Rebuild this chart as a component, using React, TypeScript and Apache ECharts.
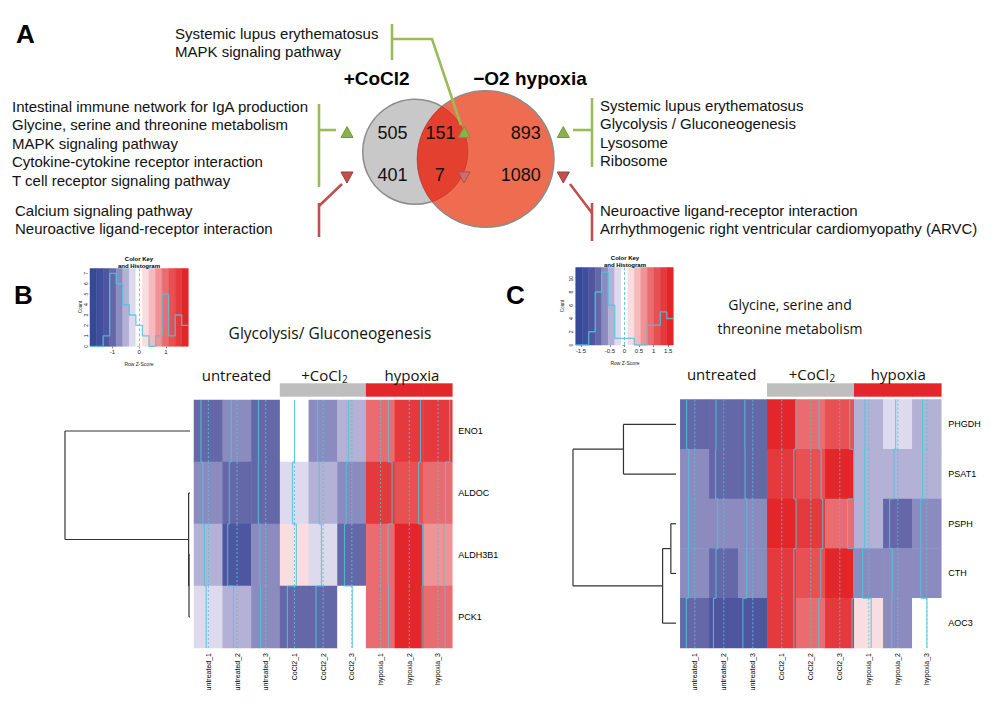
import React, { useEffect, useRef } from 'react';
import * as echarts from 'echarts';

// ---------------- data ----------------
const sampleNames = ['untreated_1', 'untreated_2', 'untreated_3', 'CoCl2_1', 'CoCl2_2', 'CoCl2_3', 'hypoxia_1', 'hypoxia_2', 'hypoxia_3'];
const sampleGroups = ['untreated', 'untreated', 'untreated', 'CoCl2', 'CoCl2', 'CoCl2', 'hypoxia', 'hypoxia', 'hypoxia'];

// Panel B: Glycolysis / Gluconeogenesis (row z-scores)
const glycolysisGenes = ['ENO1', 'ALDOC', 'ALDH3B1', 'PCK1'];
const zENO1 = [-0.95, -0.75, -0.93, 0.02, -0.7, -0.45, 1.0, 1.45, 1.5];
const zALDOC = [-0.7, -1.0, -0.95, -0.25, -0.5, -0.72, 1.48, 1.2, 0.98];
const zALDH3B1 = [-0.5, -1.2, -0.75, 0.25, -0.22, -0.95, 0.95, 1.7, 0.75];
const zPCK1 = [-0.28, -0.45, -0.68, -0.9, -0.92, 0.05, 1.0, 1.65, 0.92];

// Panel C: Glycine, serine and threonine metabolism (row z-scores)
const glycineGenes = ['PHGDH', 'PSAT1', 'PSPH', 'CTH', 'AOC3'];
const zPHGDH = [-0.95, -0.9, -0.92, 1.62, 0.95, 1.15, -0.45, -0.25, -0.5];
const zPSAT1 = [-0.7, -0.95, -0.9, 1.4, 1.2, 1.6, -0.5, -0.45, -0.48];
const zPSPH = [-0.72, -0.7, -0.68, 1.65, 1.38, 0.9, -0.5, -0.95, -0.7];
const zCTH = [-0.75, -0.9, -0.7, 1.4, 1.15, 1.62, -0.72, -0.65, -0.7];
const zAOC3 = [-0.98, -1.2, -1.15, 1.4, 0.92, 1.42, 0.28, -0.7, 0.02];

// Row dendrograms (hclust style: negative = leaf row, positive = earlier merge step)
const dendroB = [[-3, -4, 0.08], [-2, 1, 0.11], [-1, 2, 10]];
const dendroC = [[-3, -4, 0.5], [1, -5, 1.3], [-1, -2, 5.1], [3, 2, 10]];

// Color keys
const keyRangeB = 1.84;
const keyRangeC = 1.68;
const histCountsB = [0, 0, 1, 7, 6, 4, 3, 2, 1, 0, 1, 5, 1, 3, 2];
const histCountsC = [0, 0, 2, 8, 11, 6, 1, 1, 1, 0, 0, 3, 3, 5, 4];
const keyTicksB = [-1, 0, 1];
const keyTicksC = [-1.5, -0.5, 0, 0.5, 1, 1.5];
const countTicksB = [0, 1, 2, 3, 4, 5, 6, 7];
const countTicksC = [0, 2, 4, 6, 8, 10];

// Panel A: Venn diagram
const vennUpCounts = [505, 151, 893];
const vennDownCounts = [401, 7, 1080];
const sharedUpPathways = ['Systemic lupus erythematosus', 'MAPK signaling pathway'];
const cocl2UpPathways = ['Intestinal immune network for IgA production', 'Glycine, serine and threonine metabolism', 'MAPK signaling pathway', 'Cytokine-cytokine receptor interaction', 'T cell receptor signaling pathway'];
const cocl2DownPathways = ['Calcium signaling pathway', 'Neuroactive ligand-receptor interaction'];
const hypoxiaUpPathways = ['Systemic lupus erythematosus', 'Glycolysis / Gluconeogenesis', 'Lysosome', 'Ribosome'];
const hypoxiaDownPathways = ['Neuroactive ligand-receptor interaction', 'Arrhythmogenic right ventricular cardiomyopathy (ARVC)'];

// ---------------- styles ----------------
const zPalette = ['#36489A', '#414E9C', '#4E56A0', '#6468A8', '#8B8BBF', '#B3B2D6', '#DCDAEC', '#FFFFFF', '#FADDE0', '#F6BABC', '#F09396', '#EB6C70', '#E85053', '#E53A3D', '#E2262A'];
const groupColors: Record<string, string> = { untreated: 'rgba(0,0,0,0)', CoCl2: '#BEBEBE', hypoxia: '#E2262A' };
const TRACE = 'rgba(78,196,222,0.85)';
const ARIAL = "'Liberation Sans', Arial, sans-serif";
const HUMAN = "'Open Sans', 'Noto Sans', sans-serif";
const GREEN = '#9BBB59';
const RED = '#C0504D';

function pieces(R: number) {
  const w = (2 * R) / 15;
  return zPalette.map((color, i) => {
    const p: any = { color };
    if (i > 0) p.gte = -R + i * w;
    if (i < 14) p.lt = -R + (i + 1) * w;
    return p;
  });
}

function heatData(rows: number[][]) {
  const out: number[][] = [];
  rows.forEach((vals, r) => vals.forEach((v, c) => out.push([c, r, v])));
  return out;
}

function traceSeries(idx: number, rows: number[][], R: number) {
  const data: number[][] = [];
  rows.forEach((vals, r) => vals.forEach((v, c) => {
    const next = r + 1 < rows.length ? rows[r + 1][c] : v;
    data.push([c, r, v, next, c, r]);
  }));
  return {
    type: 'custom', xAxisIndex: idx, yAxisIndex: idx, z: 5, silent: true,
    encode: { x: 0, y: 1 },
    data,
    renderItem: (params: any, api: any) => {
      const c = api.value(4), r = api.value(5), v = api.value(2), vn = api.value(3);
      const p = api.coord([c, r]);
      const s = api.size([1, 1]);
      const w = s[0], h = s[1];
      const top = p[1] - h / 2, bot = p[1] + h / 2;
      const xv = p[0] + (v / (2 * R)) * w;
      const xn = p[0] + (vn / (2 * R)) * w;
      return {
        type: 'group',
        children: [
          { type: 'line', shape: { x1: p[0], y1: top, x2: p[0], y2: bot }, style: { stroke: TRACE, lineWidth: 1, lineDash: [2, 2] } },
          { type: 'line', shape: { x1: xv, y1: top, x2: xv, y2: bot }, style: { stroke: TRACE, lineWidth: 1.1 } },
          { type: 'line', shape: { x1: xv, y1: bot, x2: xn, y2: bot }, style: { stroke: TRACE, lineWidth: 1.1 } },
        ],
      };
    },
  };
}

function dendroSegments(merges: number[][]) {
  const pos: number[] = [], ht: number[] = [];
  const segs: number[][] = [];
  const get = (k: number) => (k < 0 ? [-k - 1, 0] : [pos[k - 1], ht[k - 1]]);
  merges.forEach(([a, b, h]) => {
    const [pa, ha] = get(a);
    const [pb, hb] = get(b);
    segs.push([ha, pa, h, pa], [hb, pb, h, pb], [h, pa, h, pb]);
    pos.push((pa + pb) / 2);
    ht.push(h);
  });
  return segs;
}

function dendroSeries(idx: number, merges: number[][]) {
  return {
    type: 'custom', xAxisIndex: idx, yAxisIndex: idx, silent: true,
    encode: { x: [0, 2], y: [1, 3] },
    data: dendroSegments(merges),
    renderItem: (params: any, api: any) => {
      const a = api.coord([api.value(0), api.value(1)]);
      const b = api.coord([api.value(2), api.value(3)]);
      return { type: 'line', shape: { x1: a[0], y1: a[1], x2: b[0], y2: b[1] }, style: { stroke: '#333', lineWidth: 1.2 } };
    },
  };
}

// column side colours: one rect per sample, filling its category band
function sideBarSeries(idx: number) {
  return {
    type: 'custom', xAxisIndex: idx, yAxisIndex: idx, silent: true,
    encode: { x: 0, y: 1 },
    data: sampleGroups.map((g, i) => [i, 0.5, i]),
    renderItem: (params: any, api: any) => {
      const i = api.value(2);
      const g = sampleGroups[i];
      if (g === 'untreated') return null;
      const p0 = api.coord([i, 0]);
      const p1 = api.coord([i, 1]);
      const w = api.size([1, 1])[0];
      return {
        type: 'rect',
        shape: { x: p0[0] - w / 2 - 0.3, y: p1[1], width: w + 0.6, height: p0[1] - p1[1] },
        style: { fill: groupColors[g] },
      };
    },
  };
}

function keySeries(idx: number, counts: number[], R: number) {
  const w = (2 * R) / 15;
  const pts = counts.map((c, i) => [-R + i * w, c]);
  pts.push([R, counts[counts.length - 1]]);
  return {
    type: 'line', xAxisIndex: idx, yAxisIndex: idx, step: 'end', symbol: 'none', silent: true, z: 4,
    data: pts,
    lineStyle: { color: TRACE, width: 1.3 },
    markArea: {
      silent: true,
      data: zPalette.map((color, i) => [
        { xAxis: -R + i * w, itemStyle: { color, opacity: 1, borderWidth: 0.5, borderColor: color } },
        { xAxis: -R + (i + 1) * w },
      ]),
    },
    markLine: {
      silent: true, symbol: ['none', 'none'], label: { show: false },
      lineStyle: { color: TRACE, type: [3, 2], width: 1 },
      data: [{ xAxis: 0 }],
    },
  };
}

function catX(idx: number, show: boolean) {
  return {
    type: 'category', gridIndex: idx, data: sampleNames, show,
    axisLine: { show: false }, axisTick: { show: false }, splitLine: { show: false },
    axisLabel: { rotate: 90, fontSize: 7, margin: 5, color: '#000', fontFamily: ARIAL },
  };
}

function keyAxes(idx: number, R: number, ticks: number[], counts: number[], ymax: number) {
  return {
    x: {
      type: 'value', gridIndex: idx, min: -R, max: R,
      axisLine: { show: false }, splitLine: { show: false },
      axisTick: { show: true, customValues: ticks, length: 2, lineStyle: { color: '#333', width: 0.6 } },
      axisLabel: { customValues: ticks, fontSize: 6, margin: 3, color: '#222', fontFamily: ARIAL },
    },
    y: {
      type: 'value', gridIndex: idx, min: 0, max: ymax,
      axisLine: { show: false }, splitLine: { show: false },
      axisTick: { show: true, customValues: counts, length: 2, lineStyle: { color: '#333', width: 0.6 } },
      axisLabel: { customValues: counts, fontSize: 5, margin: 2, rotate: 90, color: '#222', fontFamily: ARIAL },
    },
  };
}

function txt(text: string, x: number, y: number, o: any = {}) {
  const align = o.align || 'left';
  return {
    type: 'text', silent: true, z: 10,
    x: o.rot ? x : 0, y: o.rot ? y : 0, rotation: o.rot || 0,
    style: {
      text, x: o.rot ? 0 : x, y: o.rot ? 0 : y,
      fontSize: o.size || 15, fontWeight: o.bold ? 'bold' : 'normal', fontFamily: o.font || ARIAL,
      fill: o.color || '#111',
      textAlign: align, align, textVerticalAlign: 'middle', verticalAlign: 'middle',
    },
  };
}

function tri(cx: number, cy: number, up: boolean, fill: string, stroke: string, opacity = 1) {
  const w = 6, h = 5.5;
  const points = up
    ? [[cx - w, cy + h], [cx + w, cy + h], [cx, cy - h]]
    : [[cx - w, cy - h], [cx + w, cy - h], [cx, cy + h]];
  return { type: 'polygon', silent: true, z: 9, shape: { points }, style: { fill, stroke, lineWidth: 1, opacity } };
}

function pl(points: number[][], color: string) {
  return { type: 'polyline', silent: true, z: 8, shape: { points }, style: { stroke: color, lineWidth: 2.6, fill: 'none' } };
}

function lens(c1: any, c2: any) {
  const dx = c2.cx - c1.cx, dy = c2.cy - c1.cy;
  const d = Math.hypot(dx, dy);
  const a = (c1.r * c1.r - c2.r * c2.r + d * d) / (2 * d);
  const t1 = Math.atan2(dy, dx);
  const t2 = t1 + Math.PI;
  const al1 = Math.acos(a / c1.r);
  const al2 = Math.acos((d - a) / c2.r);
  const pts: number[][] = [];
  const n = 40;
  for (let i = 0; i <= n; i++) {
    const t = t1 - al1 + (2 * al1 * i) / n;
    pts.push([c1.cx + c1.r * Math.cos(t), c1.cy + c1.r * Math.sin(t)]);
  }
  for (let i = 0; i <= n; i++) {
    const t = t2 - al2 + (2 * al2 * i) / n;
    pts.push([c2.cx + c2.r * Math.cos(t), c2.cy + c2.r * Math.sin(t)]);
  }
  return pts;
}

export default function App() {
  const ref = useRef<HTMLDivElement>(null);

  useEffect(() => {
    if (!ref.current) return;
    const chart = echarts.init(ref.current, null, { renderer: 'svg' });

    const rowsB = [zENO1, zALDOC, zALDH3B1, zPCK1];
    const rowsC = [zPHGDH, zPSAT1, zPSPH, zCTH, zAOC3];

    const gB = { left: 194, top: 400, width: 258.3, height: 248 };
    const gC = { left: 680.3, top: 399.5, width: 261, height: 248.5 };

    const kB = keyAxes(3, keyRangeB, keyTicksB, countTicksB, 7.46);
    const kC = keyAxes(7, keyRangeC, keyTicksC, countTicksC, 11.7);

    const venL = { cx: 415.2, cy: 151.8, r: 52.5 };
    const venR = { cx: 485.7, cy: 159, r: 68.3 };

    const graphics: any[] = [
      txt('A', 16, 34, { size: 26, bold: true, color: '#000' }),
      txt('B', 14, 295, { size: 26, bold: true, color: '#000' }),
      txt('C', 506, 295, { size: 26, bold: true, color: '#000' }),
      { type: 'circle', silent: true, z: 5, shape: { cx: venL.cx, cy: venL.cy, r: venL.r }, style: { fill: '#C8C8C8', stroke: '#8C8C8C', lineWidth: 1.5 } },
      { type: 'circle', silent: true, z: 6, shape: { cx: venR.cx, cy: venR.cy, r: venR.r }, style: { fill: '#EE6C4F', stroke: '#8C8C8C', lineWidth: 1.5 } },
      { type: 'polygon', silent: true, z: 7, shape: { points: lens(venL, venR) }, style: { fill: '#E3402F', stroke: '#D4392A', lineWidth: 1 } },
      txt('+CoCl2', 376.7, 78, { size: 19, bold: true, align: 'center', color: '#000' }),
      txt('\u2212O2 hypoxia', 530, 78, { size: 19, bold: true, align: 'center', color: '#000' }),
      txt(String(vennUpCounts[0]), 392.5, 133, { size: 18, align: 'center' }),
      txt(String(vennUpCounts[1]), 440.5, 133, { size: 18, align: 'center' }),
      txt(String(vennUpCounts[2]), 540.7, 133, { size: 18, align: 'right' }),
      txt(String(vennDownCounts[0]), 392.5, 175, { size: 18, align: 'center' }),
      txt(String(vennDownCounts[1]), 439.7, 175, { size: 18, align: 'center' }),
      txt(String(vennDownCounts[2]), 540.7, 175, { size: 18, align: 'right' }),
      pl([[392, 24], [392, 60]], GREEN),
      pl([[392, 39], [432, 39], [461, 125]], GREEN),
      pl([[319, 104], [319, 187]], GREEN),
      pl([[319, 130], [336, 130]], GREEN),
      pl([[319, 203], [319, 237]], RED),
      pl([[319, 206], [342, 184]], RED),
      pl([[592, 98], [592, 167]], GREEN),
      pl([[573, 130], [592, 130]], GREEN),
      pl([[592, 203], [592, 241]], RED),
      pl([[570, 184], [592, 213]], RED),
      tri(347, 132, true, '#8DB04E', '#6F9A3A'),
      tri(464.3, 132, true, '#8DB04E', '#6F9A3A'),
      tri(563.3, 132, true, '#8DB04E', '#6F9A3A'),
      tri(347, 177.5, false, '#C0504D', '#9E3A38'),
      tri(464, 177.5, false, '#C87070', '#A05050', 0.85),
      tri(563.3, 177.5, false, '#C0504D', '#9E3A38'),
    ];
    sharedUpPathways.forEach((s, i) => graphics.push(txt(s, 175, 33 + i * 18.5)));
    cocl2UpPathways.forEach((s, i) => graphics.push(txt(s, 12, 106 + i * 18.5)));
    cocl2DownPathways.forEach((s, i) => graphics.push(txt(s, 15, 210 + i * 18.5)));
    hypoxiaUpPathways.forEach((s, i) => graphics.push(txt(s, 600, 105.5 + i * 18.3)));
    hypoxiaDownPathways.forEach((s, i) => graphics.push(txt(s, 600, 210 + i * 18.5)));

    graphics.push(
      txt('Glycolysis/ Gluconeogenesis', 330, 333, { size: 15.5, font: HUMAN, align: 'center' }),
      txt('untreated', 236.5, 374.5, { size: 15, font: HUMAN, align: 'center' }),
      txt('+CoCl', 341.5, 374.5, { size: 15, font: HUMAN, align: 'right' }),
      txt('2', 342, 379, { size: 10, font: HUMAN }),
      txt('hypoxia', 412, 374.5, { size: 15, font: HUMAN, align: 'center' }),
      txt('Color Key', 139, 259, { size: 6, bold: true, align: 'center', color: '#000' }),
      txt('and Histogram', 139, 265.5, { size: 6, bold: true, align: 'center', color: '#000' }),
      txt('Row Z-Score', 139, 364, { size: 5, align: 'center', color: '#222' }),
      txt('Count', 80, 307, { size: 4.5, align: 'center', color: '#222', rot: Math.PI / 2 }),
    );
    graphics.push(
      txt('Glycine, serine and', 790, 304, { size: 14, font: HUMAN, align: 'center' }),
      txt('threonine metabolism', 790, 328, { size: 14, font: HUMAN, align: 'center' }),
      txt('untreated', 721.7, 373.5, { size: 15, font: HUMAN, align: 'center' }),
      txt('+CoCl', 829, 373.5, { size: 15, font: HUMAN, align: 'right' }),
      txt('2', 829.5, 378, { size: 10, font: HUMAN }),
      txt('hypoxia', 898.3, 373.5, { size: 15, font: HUMAN, align: 'center' }),
      txt('Color Key', 625, 258, { size: 6, bold: true, align: 'center', color: '#000' }),
      txt('and Histogram', 625, 264.5, { size: 6, bold: true, align: 'center', color: '#000' }),
      txt('Row Z-Score', 625, 363, { size: 5, align: 'center', color: '#222' }),
      txt('Count', 562, 306, { size: 4.5, align: 'center', color: '#222', rot: Math.PI / 2 }),
    );

    const option: any = {
      animation: false,
      backgroundColor: '#fff',
      grid: [
        gB,
        { left: gB.left, top: 383.3, width: gB.width, height: 13.4 },
        { left: 65, top: gB.top, width: 125, height: gB.height },
        { left: 90, top: 268.5, width: 98.3, height: 77.8 },
        gC,
        { left: gC.left, top: 383.3, width: gC.width, height: 13.4 },
        { left: 573, top: gC.top, width: 103, height: gC.height },
        { left: 575.7, top: 267.5, width: 97.6, height: 77.5 },
      ],
      xAxis: [
        catX(0, true),
        catX(1, false),
        { type: 'value', gridIndex: 2, min: 0, max: 10, inverse: true, show: false },
        kB.x,
        catX(4, true),
        catX(5, false),
        { type: 'value', gridIndex: 6, min: 0, max: 10, inverse: true, show: false },
        kC.x,
      ],
      yAxis: [
        {
          type: 'category', gridIndex: 0, data: glycolysisGenes, inverse: true, position: 'right',
          axisLine: { show: false }, axisTick: { show: false },
          axisLabel: { fontSize: 9, margin: 6, color: '#000', fontFamily: ARIAL },
        },
        { type: 'value', gridIndex: 1, min: 0, max: 1, show: false },
        { type: 'value', gridIndex: 2, min: -0.5, max: glycolysisGenes.length - 0.5, inverse: true, show: false },
        kB.y,
        {
          type: 'category', gridIndex: 4, data: glycineGenes, inverse: true, position: 'right',
          axisLine: { show: false }, axisTick: { show: false },
          axisLabel: { fontSize: 9, margin: 7, color: '#000', fontFamily: ARIAL },
        },
        { type: 'value', gridIndex: 5, min: 0, max: 1, show: false },
        { type: 'value', gridIndex: 6, min: -0.5, max: glycineGenes.length - 0.5, inverse: true, show: false },
        kC.y,
      ],
      visualMap: [
        { type: 'piecewise', show: false, seriesIndex: 0, dimension: 2, pieces: pieces(keyRangeB) },
        { type: 'piecewise', show: false, seriesIndex: 5, dimension: 2, pieces: pieces(keyRangeC) },
      ],
      series: [
        { type: 'heatmap', xAxisIndex: 0, yAxisIndex: 0, data: heatData(rowsB), silent: true, emphasis: { disabled: true }, itemStyle: { borderWidth: 0 } },
        traceSeries(0, rowsB, keyRangeB),
        sideBarSeries(1),
        dendroSeries(2, dendroB),
        keySeries(3, histCountsB, keyRangeB),
        { type: 'heatmap', xAxisIndex: 4, yAxisIndex: 4, data: heatData(rowsC), silent: true, emphasis: { disabled: true }, itemStyle: { borderWidth: 0 } },
        traceSeries(4, rowsC, keyRangeC),
        sideBarSeries(5),
        dendroSeries(6, dendroC),
        keySeries(7, histCountsC, keyRangeC),
      ],
      graphic: { elements: graphics },
    };

    chart.setOption(option);
    return () => chart.dispose();
  }, []);

  return <div ref={ref} style={{ position: 'absolute', left: 0, top: 0, width: 1000, height: 704, background: '#fff' }} />;
}
